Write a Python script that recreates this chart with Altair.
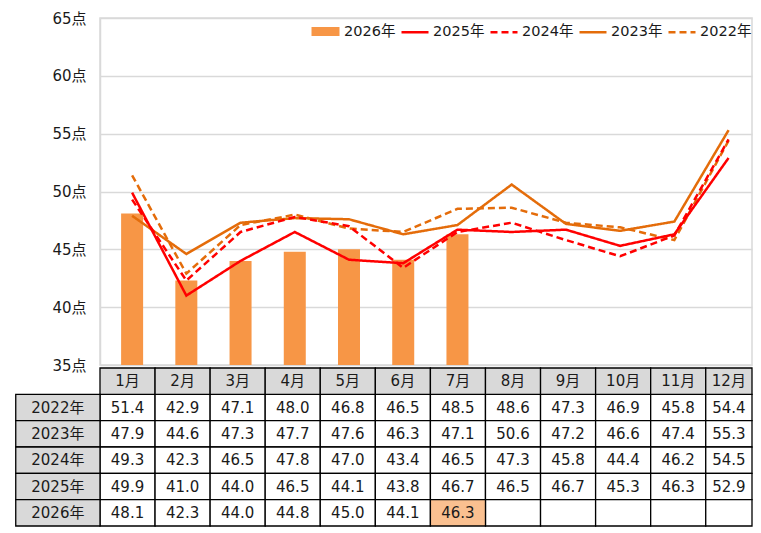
import altair as alt
import pandas as pd

months = ["1月", "2月", "3月", "4月", "5月", "6月", "7月", "8月", "9月", "10月", "11月", "12月"]
years = ["2022年", "2023年", "2024年", "2025年", "2026年"]
v2022 = [51.4, 42.9, 47.1, 48.0, 46.8, 46.5, 48.5, 48.6, 47.3, 46.9, 45.8, 54.4]
v2023 = [47.9, 44.6, 47.3, 47.7, 47.6, 46.3, 47.1, 50.6, 47.2, 46.6, 47.4, 55.3]
v2024 = [49.3, 42.3, 46.5, 47.8, 47.0, 43.4, 46.5, 47.3, 45.8, 44.4, 46.2, 54.5]
v2025 = [49.9, 41.0, 44.0, 46.5, 44.1, 43.8, 46.7, 46.5, 46.7, 45.3, 46.3, 52.9]
v2026 = [48.1, 42.3, 44.0, 44.8, 45.0, 44.1, 46.3]
y_ticks = [35, 40, 45, 50, 55, 60, 65]
highlight = ("2026年", "7月")

FONT = "DejaVu Sans, Noto Sans CJK JP"
TXT = "#1a1a1a"
XMAX = 11.84
W, H = 652, 347
TH = 158
LAST_EDGE = 11.84
LABEL_LEFT = -1.53

series_vals = {"2022年": v2022, "2023年": v2023, "2024年": v2024, "2025年": v2025, "2026年": v2026}

# ---- top chart data ----
line_order = ["2022年", "2023年", "2024年", "2025年"]
line_rows = []
for s in line_order:
    for i, v in enumerate(series_vals[s]):
        line_rows.append({"series": s, "pos": i + 0.5, "value": v})
line_df = pd.DataFrame(line_rows)
bar_df = pd.DataFrame({"bseries": "2026年", "pos": [i + 0.5 for i in range(len(v2026))], "value": v2026})

xs = alt.Scale(domain=[0, XMAX], nice=False, zero=False)
ys = alt.Scale(domain=[35, 65], nice=False, zero=False)

yaxis = alt.Axis(values=y_ticks, labelExpr="datum.value + '点'", title=None, ticks=False,
                 labelPadding=14, labelFont=FONT, labelFontSize=15, labelColor=TXT,
                 domainColor="#D9D9D9", domainWidth=1.5, gridColor="#D9D9D9", gridWidth=1.5)

bars = alt.Chart(bar_df).mark_bar(size=22).encode(
    x=alt.X("pos:Q", scale=xs, axis=None),
    y=alt.Y("value:Q", scale=ys, axis=yaxis),
    y2=alt.datum(35),
    fill=alt.Fill("bseries:N", scale=alt.Scale(domain=["2026年"], range=["#F79646"]),
                  legend=alt.Legend(orient="none", legendX=207, legendY=-5, title=None,
                                    symbolType="stroke", symbolSize=784,
                                    symbolStrokeColor="#F79646", symbolStrokeWidth=9,
                                    labelFont=FONT, labelFontSize=14.5,
                                    labelColor=TXT, labelOffset=0, padding=0)),
)

leg = alt.Legend(orient="none", legendX=300, legendY=-1, title=None, direction="horizontal",
                 symbolType="stroke", symbolSize=729, symbolStrokeWidth=2.5,
                 labelFont=FONT, labelFontSize=14.5, labelColor=TXT, labelOffset=3,
                 columnPadding=0, padding=0, labelLimit=200)
stroke_domain = ["2025年", "2024年", "2023年", "2022年"]
lines = alt.Chart(line_df).mark_line(strokeWidth=2.5).encode(
    x=alt.X("pos:Q", scale=xs, axis=None),
    y=alt.Y("value:Q", scale=ys),
    detail="series:N",
    stroke=alt.Stroke("series:N", scale=alt.Scale(domain=stroke_domain,
                      range=["#FF0000", "#FF0000", "#E46C0A", "#E46C0A"]), legend=leg),
    strokeDash=alt.StrokeDash("series:N", scale=alt.Scale(domain=stroke_domain,
                      range=[[1, 0], [7, 4], [1, 0], [7, 4]]), legend=leg),
)

top = alt.layer(bars, lines).properties(
    width=W, height=H, view=alt.ViewBackground(stroke="#D9D9D9", strokeWidth=1.5)
)

# ---- table data ----
cells = []
for i, m in enumerate(months):
    x2 = LAST_EDGE if i == 11 else i + 1
    cells.append({"kind": "head", "x1": i, "x2": x2, "y1": 5, "y2": 6, "text": m})
for r, yname in enumerate(years):
    y1, y2 = 4 - r, 5 - r
    cells.append({"kind": "rowlab", "x1": LABEL_LEFT, "x2": 0, "y1": y1, "y2": y2, "text": yname})
    vals = series_vals[yname]
    for i, m in enumerate(months):
        x2 = LAST_EDGE if i == 11 else i + 1
        txt = f"{vals[i]:.1f}" if i < len(vals) else ""
        kind = "hl" if (yname, m) == highlight else "data"
        cells.append({"kind": kind, "x1": i, "x2": x2, "y1": y1, "y2": y2, "text": txt})
cell_df = pd.DataFrame(cells)
cell_df["xc"] = (cell_df["x1"] + cell_df["x2"]) / 2
cell_df["yc"] = (cell_df["y1"] + cell_df["y2"]) / 2

txs = alt.Scale(domain=[0, XMAX], nice=False, zero=False)
tys = alt.Scale(domain=[0, 6], nice=False, zero=False)

base = alt.Chart(cell_df)
def rect_layer(kinds, color):
    return base.transform_filter(
        alt.FieldOneOfPredicate(field="kind", oneOf=kinds)
    ).mark_rect(fill=color, stroke="#000000", strokeWidth=1.3).encode(
        x=alt.X("x1:Q", scale=txs, axis=None), x2="x2:Q",
        y=alt.Y("y1:Q", scale=tys, axis=None), y2="y2:Q",
    )

head_rects = rect_layer(["head", "rowlab"], "#D9D9D9")
data_rects = rect_layer(["data"], "#FFFFFF")
hl_rects = rect_layer(["hl"], "#FAC090")
texts = base.mark_text(font=FONT, fontSize=15, color=TXT, baseline="middle").encode(
    x=alt.X("xc:Q", scale=txs, axis=None),
    y=alt.Y("yc:Q", scale=tys, axis=None),
    text="text:N",
)

table = alt.layer(data_rects, hl_rects, head_rects, texts).properties(
    width=W, height=TH, view=alt.ViewBackground(stroke=None)
)

chart = alt.vconcat(top, table, spacing=3, bounds="flush").properties(
    padding={"left": 7, "top": 2, "right": 0, "bottom": 0}
).configure_view(stroke=None).resolve_scale(
    x="independent", y="independent", fill="independent", stroke="independent",
    strokeDash="independent"
).resolve_legend(fill="independent", stroke="independent", strokeDash="independent")

chart.save("out.html", embed_options={"renderer": "svg", "actions": False})
